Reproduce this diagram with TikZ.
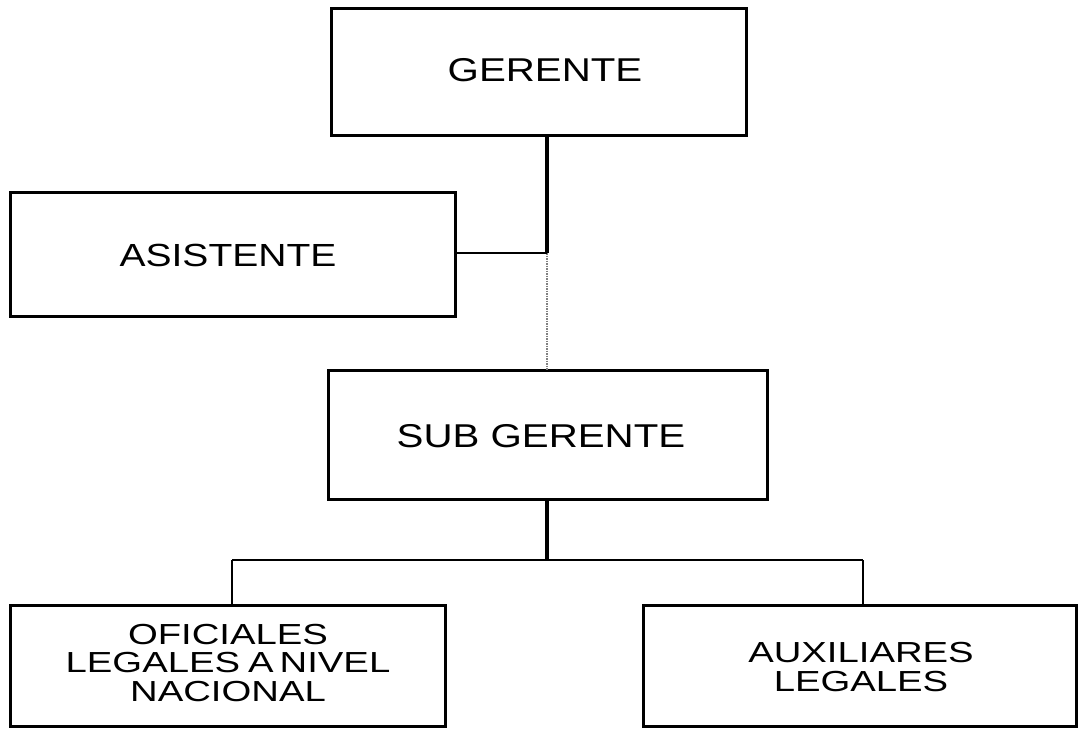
\documentclass[tikz,border=0pt]{standalone}
\usepackage{fontspec}
\setmainfont{Liberation Sans}[FakeStretch=1.22]
\newfontfamily\botfont{Liberation Sans}[FakeStretch=1.32]
\begin{document}
\begin{tikzpicture}[x=1pt,y=-1pt,
  box/.style={draw=black,line width=3pt,inner sep=0pt},
  lbl/.style={align=center,inner sep=0pt},
  botlbl/.style={align=center,inner sep=0pt,font=\botfont\fontsize{29}{28.5}\selectfont},
  thickline/.style={line width=3.2pt},
  thinline/.style={line width=1.6pt},
  faintline/.style={line width=1.5pt,draw=black!50,densely dotted}]
\useasboundingbox (0,0) rectangle (1081,729);
\fill[white] (0,0) rectangle (1081,729);
% boxes
\draw[box] (331,8) rectangle (746,135);
\draw[box] (10,192) rectangle (455,316);
\draw[box] (328,370) rectangle (767,499);
\draw[box] (10,605) rectangle (445,726);
\draw[box] (643,605) rectangle (1076,726);
% anchor nodes for the boxes
\node[minimum width=415pt,minimum height=127pt,inner sep=0pt] (ger) at (538.5,71.5) {};
\node[minimum width=445pt,minimum height=124pt,inner sep=0pt] (asi) at (232.5,254) {};
\node[minimum width=439pt,minimum height=129pt,inner sep=0pt] (sub) at (547.5,434.5) {};
\node[minimum width=435pt,minimum height=121pt,inner sep=0pt] (ofi) at (227.5,665.5) {};
\node[minimum width=433pt,minimum height=121pt,inner sep=0pt] (aux) at (859.5,665.5) {};
% texts
\node[lbl,font=\fontsize{33}{36}\selectfont] (tger) at (545,70) {GERENTE};
\node[lbl,font=\fontsize{32}{36}\selectfont] (tasi) at (228,255) {ASISTENTE};
\node[lbl,font=\fontsize{33}{36}\selectfont] (tsub) at (541,436) {SUB GERENTE};
\node[botlbl] (tofi) at (228,663) {OFICIALES\\LEGALES\hspace{8pt}A\hspace{6pt}NIVEL\\NACIONAL};
\node[botlbl] (taux) at (861,667) {AUXILIARES\\LEGALES};
% junctions
\coordinate (j1) at (547,253);
\coordinate (j2) at (547,560);
\coordinate (jl) at (232,560);
\coordinate (jr) at (863,560);
% connectors
\draw[thickline] (ger.south -| j1) -- (j1);
\draw[faintline] (j1) -- (sub.north -| j1);
\draw[thinline] (asi.east |- j1) -- (j1);
\draw[thickline] (sub.south -| j2) -- (j2);
\draw[thinline] (jl) -- (jr);
\draw[thinline] (jl) -- (ofi.north -| jl);
\draw[thinline] (jr) -- (aux.north -| jr);
\end{tikzpicture}
\end{document}
